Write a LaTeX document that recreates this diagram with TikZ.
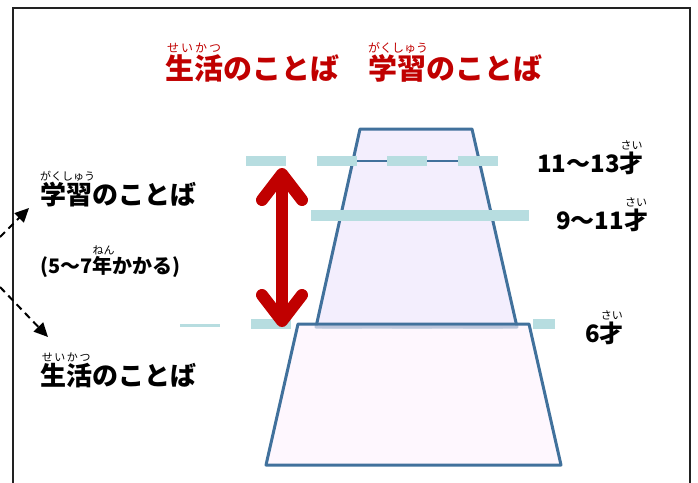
\documentclass[tikz,border=0pt]{standalone}
\usepackage{fontspec}
\newfontfamily\jp{Noto Sans CJK JP}
\usetikzlibrary{arrows.meta,positioning}
\definecolor{myred}{RGB}{192,0,0}
\definecolor{mycyan}{RGB}{183,221,224}
\definecolor{myblue}{RGB}{65,113,156}
\definecolor{upperfill}{RGB}{243,238,253}
\definecolor{lowerfill}{RGB}{253,243,253}
\definecolor{framegray}{RGB}{34,34,34}

% base text with reading above it
\newcommand{\furi}[3][11pt]{\leavevmode\setbox0=\hbox{#2}%
  \rlap{\raisebox{\dimexpr\ht0+1.5pt\relax}{\hbox to\wd0{\mdseries\fontsize{#1}{#1}\selectfont\hfill#3\hfill}}}%
  \box0}

\tikzset{
  lbl/.style={inner sep=0pt, anchor=base west, font=\jp\bfseries\fontsize{26pt}{26pt}\selectfont},
  agelbl/.style={lbl, font=\jp\bfseries\fontsize{24pt}{24pt}\selectfont},
  guide/.style={draw=mycyan, line width=10pt},
  block/.style={draw=myblue, line width=3pt, line join=round},
  bigarrow/.style={draw=myred, line width=12pt,
    {Straight Barb[round,length=26pt,width=40pt]}-{Straight Barb[round,length=26pt,width=40pt]}},
  dasharrow/.style={line width=2pt, dash pattern=on 7pt off 5pt,
    -{Triangle[length=14pt,width=13pt]}}
}

\begin{document}
\begin{tikzpicture}[x=1pt,y=-1pt]
    \useasboundingbox (0,0) rectangle (698,482);
    \draw[framegray, line width=2pt] (13,490) |- (690,8) -- (690,490);

    % 6 sai line goes under the blocks
    \draw[guide, line width=3pt] (180,325) -- (220,325);
    \draw[guide, dash pattern=on 40pt off 30.5pt] (251,324) -- (555,324);

    \draw[block, fill=upperfill] (360,129) -- (472,129) -- (517,327) -- (316,327) -- cycle;
    \draw[myblue, line width=2.5pt] (353,161) -- (479,161);
    \draw[guide, dash pattern=on 40pt off 30.5pt] (246,161) -- (498,161);
    \draw[guide, line width=11pt] (311,215) -- (529,215);
    \draw[block, fill=lowerfill, fill opacity=0.65] (298,324) -- (529,324) -- (561,465) -- (266,465) -- cycle;

    \coordinate (arrTop) at (282,168);
    \coordinate (arrBot) at (282,327);
    \draw[bigarrow] (arrTop) -- (arrBot);

    % title
    \node (ttl) [lbl, text=myred, font=\jp\bfseries\fontsize{29pt}{29pt}\selectfont] at (165,79)
        {\furi[12pt]{生活}{せ\hfill い\hfill か\hfill つ}のことば　\furi[12pt]{学習}{がくしゅう}のことば};

    % left side
    \node (gakuL) [lbl] at (40,204) {\furi{学習}{がくしゅう}のことば};
    \node (kakaru) [lbl, font=\jp\bfseries\fontsize{20pt}{20pt}\selectfont] at (40,273) {(5～7\furi{年}{ねん}かかる)};
    \node (seiL) [lbl] at (40,385) {\furi{生活}{せ\hfill い\hfill か\hfill つ}のことば};

    \coordinate (upFrom) at (0,237);
    \coordinate (upTo) at (29,208);
    \coordinate (downFrom) at (0,287);
    \coordinate (downTo) at (48,337);
    \draw[dasharrow] (upFrom) -- (upTo);
    \draw[dasharrow] (downFrom) -- (downTo);

    % ages
    \node (age13) [agelbl] at (537,172) {11～13\furi{才}{さい}};
    \node (age11) [agelbl] at (556,229) {9～11\furi{才}{さい}};
    \node (age6) [agelbl] at (585,342) {6\furi{才}{さい}};
\end{tikzpicture}
\end{document}
